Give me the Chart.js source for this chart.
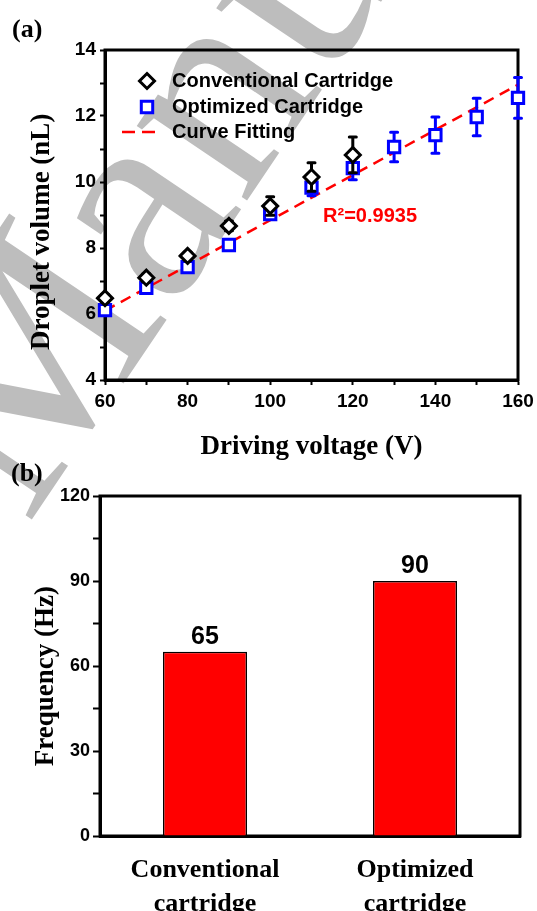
<!DOCTYPE html>
<html>
<head>
<meta charset="utf-8">
<script src="https://cdn.jsdelivr.net/npm/chart.js@4.4.1/dist/chart.umd.min.js"></script>
<style>
  html, body { margin: 0; padding: 0; background: #fff; }
  body { width: 537px; height: 911px; position: relative; overflow: hidden; }
  .panel { position: absolute; left: 0; width: 537px; z-index: 1; }
  #box-a { top: 0; height: 470px; }
  #box-b { top: 470px; height: 441px; }
  .tag { position: absolute; z-index: 2; font: bold 26px 'Liberation Serif', serif; line-height: 26px; color: #000; }
  .mark {
    position: absolute; z-index: 0; left: 28px; top: 284px;
    font: 290px 'Liberation Serif', serif; line-height: 290px; color: #bdbdbd;
    white-space: nowrap; transform-origin: 0 243px; transform: rotate(-56deg);
  }
</style>
</head>
<body>
<div class="mark">Manuscript</div>
<div class="panel" id="box-a"><canvas id="chart-a"></canvas></div>
<div class="panel" id="box-b"><canvas id="chart-b"></canvas></div>
<div class="tag" style="left:12px;top:16px">(a)</div>
<div class="tag" style="left:11px;top:460px">(b)</div>
<script>
// (a) droplet volume vs driving voltage
const voltConv  = [60, 70, 80, 90, 100, 110, 120];
const volConv   = [6.48, 7.10, 7.76, 8.67, 9.27, 10.15, 10.82];
const errConv   = [0.12, 0.12, 0.12, 0.15, 0.28, 0.43, 0.54];
const voltOpt   = [60, 70, 80, 90, 100, 110, 120, 130, 140, 150, 160];
const volOpt    = [6.12, 6.79, 7.42, 8.09, 9.03, 9.83, 10.42, 11.06, 11.42, 11.97, 12.55];
const errOpt    = [0.10, 0.10, 0.10, 0.10, 0.12, 0.25, 0.35, 0.45, 0.55, 0.57, 0.62];
const fitVolt   = [60, 160];
const fitVol    = [6.10, 12.95];
const r2Label   = 'R²=0.9935';
const voltTicks = [60, 80, 100, 120, 140, 160];
const volTicks  = [4, 6, 8, 10, 12, 14];

// (b) jetting frequency
const cartridges = [['Conventional', 'cartridge'], ['Optimized', 'cartridge']];
const freqs      = [65, 90];
const freqTicks  = [0, 30, 60, 90, 120];

const SANS  = "'Liberation Sans', Arial, sans-serif";
const SERIF = "'Liberation Serif', 'Times New Roman', serif";

Chart.defaults.color = '#000';

const toPoints = (xs, ys) => xs.map((x, i) => ({ x, y: ys[i] }));

// box round the plot area, drawn under the markers
const frame = {
  id: 'frame',
  beforeDatasetsDraw(chart) {
    const { ctx, chartArea: a } = chart;
    ctx.save();
    ctx.lineWidth = 3;
    ctx.strokeStyle = '#000';
    ctx.strokeRect(a.left, a.top, a.right - a.left, a.bottom - a.top);
    ctx.restore();
  },
};

// vertical error bars, drawn just before each dataset's markers
const errorBars = {
  id: 'errorBars',
  beforeDatasetDraw(chart, args) {
    const ds = chart.data.datasets[args.index];
    if (!ds.errors) return;
    const { ctx, scales: { x, y } } = chart;
    ctx.save();
    ctx.strokeStyle = ds.borderColor;
    ctx.lineWidth = 3;
    ctx.lineCap = 'round';
    ds.data.forEach((p, i) => {
      const e = ds.errors[i];
      const px = x.getPixelForValue(p.x);
      const top = y.getPixelForValue(p.y + e);
      const bot = y.getPixelForValue(p.y - e);
      ctx.beginPath();
      ctx.moveTo(px, top); ctx.lineTo(px, bot);
      ctx.moveTo(px - 3.5, top); ctx.lineTo(px + 3.5, top);
      ctx.moveTo(px - 3.5, bot); ctx.lineTo(px + 3.5, bot);
      ctx.stroke();
    });
    ctx.restore();
  },
};

// legend in the upper-left corner of the plot + R² note
const insideLegend = {
  id: 'insideLegend',
  afterDatasetsDraw(chart) {
    const { ctx, chartArea: a, scales: { x, y } } = chart;
    const mx = a.left + 42, tx = a.left + 67;
    const rows = [a.top + 31, a.top + 57, a.top + 82];
    ctx.save();
    chart.data.datasets.forEach((ds, i) => {
      const ry = rows[i];
      ctx.strokeStyle = ds.borderColor;
      ctx.fillStyle = '#fff';
      ctx.lineWidth = 3;
      ctx.beginPath();
      if (ds.showLine) {
        ctx.lineWidth = 2.5;
        ctx.setLineDash([13, 7]);
        ctx.moveTo(mx - 25, ry); ctx.lineTo(mx + 10, ry);
        ctx.stroke();
        ctx.setLineDash([]);
      } else if (ds.pointStyle === 'rectRot') {
        const r = 7.5;
        ctx.moveTo(mx, ry - r); ctx.lineTo(mx + r, ry); ctx.lineTo(mx, ry + r); ctx.lineTo(mx - r, ry);
        ctx.closePath(); ctx.fill(); ctx.stroke();
      } else {
        const h = 5.7;
        ctx.rect(mx - h, ry - h, 2 * h, 2 * h);
        ctx.fill(); ctx.stroke();
      }
      ctx.fillStyle = '#000';
      ctx.font = 'bold 20px ' + SANS;
      ctx.textBaseline = 'middle';
      ctx.textAlign = 'left';
      ctx.fillText(ds.label, tx, ry);
    });
    ctx.fillStyle = '#ff0000';
    ctx.font = 'bold 20px ' + SANS;
    ctx.fillText(r2Label, x.getPixelForValue(112.8), y.getPixelForValue(8.97));
    ctx.restore();
  },
};

new Chart(document.getElementById('chart-a'), {
  type: 'scatter',
  data: {
    datasets: [
      {
        label: 'Conventional Cartridge',
        data: toPoints(voltConv, volConv),
        errors: errConv,
        pointStyle: 'rectRot',
        pointRadius: 7.5,
        pointBorderWidth: 3,
        borderColor: '#000',
        pointBorderColor: '#000',
        pointBackgroundColor: '#fff',
        clip: false,
      },
      {
        label: 'Optimized Cartridge',
        data: toPoints(voltOpt, volOpt),
        errors: errOpt,
        pointStyle: 'rect',
        pointRadius: 8,
        pointBorderWidth: 3,
        borderColor: '#0000ff',
        pointBorderColor: '#0000ff',
        pointBackgroundColor: '#fff',
        clip: false,
      },
      {
        label: 'Curve Fitting',
        data: toPoints(fitVolt, fitVol),
        showLine: true,
        pointRadius: 0,
        borderColor: '#ff0000',
        borderWidth: 2.5,
        borderDash: [11, 7],
        clip: false,
      },
    ],
  },
  options: {
    responsive: true,
    maintainAspectRatio: false,
    animation: false,
    events: [],
    layout: { padding: { top: 50, right: 19, left: 0, bottom: 0 } },
    plugins: { legend: { display: false }, tooltip: { enabled: false } },
    scales: {
      x: {
        type: 'linear', min: 60, max: 160,
        afterFit: s => { s.height = 90; s.paddingLeft = 0; s.paddingRight = 0; },
        border: { display: true, color: '#000', width: 3 },
        grid: { drawOnChartArea: false, drawTicks: true, tickLength: 5, tickWidth: 2, tickColor: '#000' },
        ticks: {
          stepSize: 10, padding: 5, autoSkip: false, maxRotation: 0,
          font: { family: SANS, size: 19, weight: 'bold' },
          callback: v => voltTicks.includes(v) ? v : '',
        },
        title: {
          display: true, text: 'Driving voltage (V)',
          font: { family: SERIF, size: 27, weight: 'bold' },
          padding: { top: 0, bottom: 7 },
        },
      },
      y: {
        type: 'linear', min: 4, max: 14,
        afterFit: s => { s.width = 105; s.paddingTop = 0; s.paddingBottom = 0; },
        border: { display: true, color: '#000', width: 3 },
        grid: { drawOnChartArea: false, drawTicks: true, tickLength: 5, tickWidth: 2, tickColor: '#000' },
        ticks: {
          stepSize: 1, padding: 4, autoSkip: false,
          font: { family: SANS, size: 19, weight: 'bold' },
          callback: v => volTicks.includes(v) ? v : '',
        },
        title: {
          display: true, text: 'Droplet volume (nL)     ',
          font: { family: SERIF, size: 27, weight: 'bold' },
          padding: { top: 26, bottom: 0 },
        },
      },
    },
  },
  plugins: [frame, errorBars, insideLegend],
});

// value printed above each bar
const barValues = {
  id: 'barValues',
  afterDatasetsDraw(chart) {
    const { ctx } = chart;
    const ds = chart.data.datasets[0];
    ctx.save();
    ctx.font = 'bold 25px ' + SANS;
    ctx.fillStyle = '#000';
    ctx.textAlign = 'center';
    ctx.textBaseline = 'middle';
    chart.getDatasetMeta(0).data.forEach((bar, i) => {
      ctx.fillText(String(ds.data[i]), bar.x, bar.y - 15);
    });
    ctx.restore();
  },
};

new Chart(document.getElementById('chart-b'), {
  type: 'bar',
  data: {
    labels: cartridges,
    datasets: [{
      data: freqs,
      backgroundColor: '#ff0000',
      borderColor: '#000',
      borderWidth: 1.5,
      barPercentage: 0.4,
      categoryPercentage: 1,
    }],
  },
  options: {
    responsive: true,
    maintainAspectRatio: false,
    animation: false,
    events: [],
    layout: { padding: { top: 26, right: 17, left: 0, bottom: 0 } },
    plugins: { legend: { display: false }, tooltip: { enabled: false } },
    scales: {
      x: {
        afterFit: s => { s.height = 75; s.paddingLeft = 0; s.paddingRight = 0; },
        border: { display: true, color: '#000', width: 3 },
        grid: { display: false, drawTicks: false },
        ticks: {
          padding: 17, autoSkip: false, maxRotation: 0,
          font: { family: SERIF, size: 26, weight: 'bold', lineHeight: 1.31 },
        },
      },
      y: {
        min: 0, max: 120,
        afterFit: s => { s.width = 100; s.paddingTop = 0; s.paddingBottom = 0; },
        border: { display: true, color: '#000', width: 3 },
        grid: { drawOnChartArea: false, drawTicks: true, tickLength: 7, tickWidth: 2, tickColor: '#000' },
        ticks: {
          stepSize: 15, padding: 3, autoSkip: false,
          font: { family: SANS, size: 18, weight: 'bold' },
          callback: v => freqTicks.includes(v) ? v : '',
        },
        title: {
          display: true, text: 'Frequency (Hz)   ',
          font: { family: SERIF, size: 27, weight: 'bold' },
          padding: { top: 30, bottom: 0 },
        },
      },
    },
  },
  plugins: [frame, barValues],
});
</script>
</body>
</html>
